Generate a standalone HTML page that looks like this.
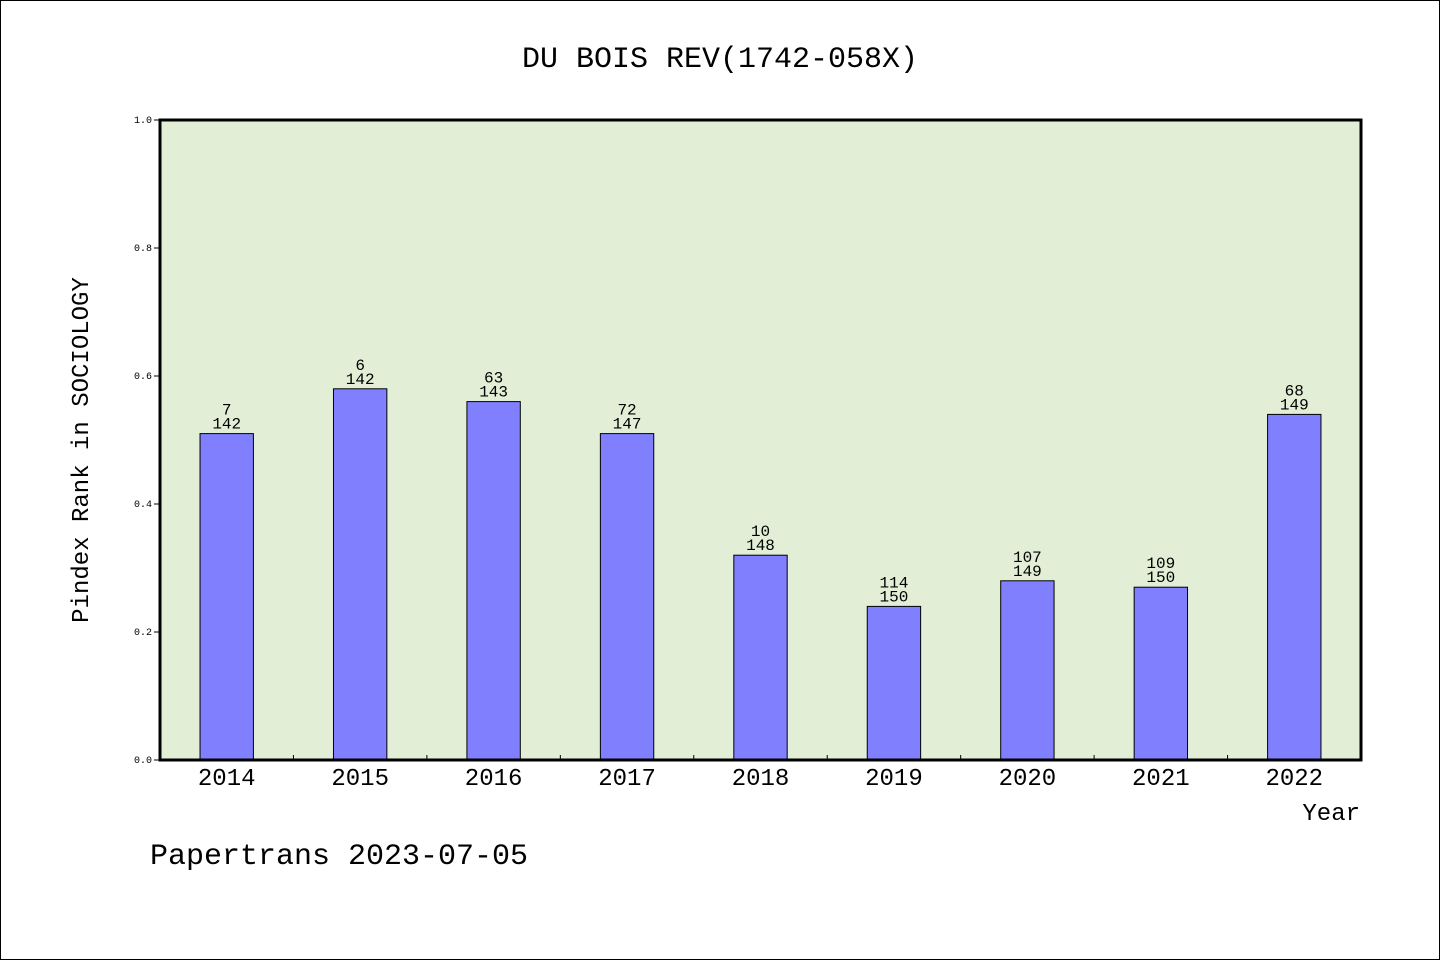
<!DOCTYPE html>
<html><head><meta charset="utf-8"><style>
body{margin:0;background:#fff}
svg text{font-family:"WenQuanYi Zen Hei","Liberation Mono",monospace;fill:#000}
</style></head><body>
<svg width="1440" height="960" xmlns="http://www.w3.org/2000/svg">
<rect x="0.5" y="0.5" width="1439" height="959" fill="#fff" stroke="#000"/>
<text x="720" y="67" font-size="30" text-anchor="middle">DU BOIS REV(1742-058X)</text>
<rect x="160" y="120" width="1201" height="640" fill="#e2efd6"/>
<g id="bars"></g>
<g id="yticks"></g>
<g id="xticks"></g>
<rect x="160" y="120" width="1201" height="640" fill="none" stroke="#000" stroke-width="3"/>
<text transform="translate(88,450) rotate(-90)" font-size="24" text-anchor="middle">Pindex Rank in SOCIOLOGY</text>
<text x="1360" y="820" font-size="24" text-anchor="end">Year</text>
<text x="150" y="864" font-size="30">Papertrans 2023-07-05</text>
</svg>
<script>
const categories=["2014","2015","2016","2017","2018","2019","2020","2021","2022"];
const values=[0.51,0.58,0.56,0.51,0.32,0.24,0.28,0.27,0.54];
const ranks=["7","6","63","72","10","114","107","109","68"];
const totals=["142","142","143","147","148","150","149","150","149"];
const yTicks=[0,0.2,0.4,0.6,0.8,1.0];
const X0=160,X1=1361,Y0=760,Y1=120;
const NS="http://www.w3.org/2000/svg";
const band=(X1-X0)/categories.length;
const xc=i=>X0+(i+0.5)*band;
const y=v=>Y0-(v)*(Y0-Y1);
function mk(t,a,p){const e=document.createElementNS(NS,t);for(const k in a)e.setAttribute(k,a[k]);p.appendChild(e);return e;}
const bars=document.getElementById('bars'),yt=document.getElementById('yticks'),xt=document.getElementById('xticks');
categories.forEach((c,i)=>{
  const w=band*0.4,yy=y(values[i]);
  const r=mk('rect',{x:xc(i)-w/2,y:yy,width:w,height:Y0-yy,fill:'#8080ff',stroke:'#000','stroke-width':1},bars);
  
  
  const t1=mk('text',{x:xc(i),y:yy-19,'font-size':16,'text-anchor':'middle'},bars);t1.textContent=ranks[i];
  
  
  const t2=mk('text',{x:xc(i),y:yy-5,'font-size':16,'text-anchor':'middle'},bars);t2.textContent=totals[i];
  
  
  const xl=mk('text',{x:xc(i),y:785,'font-size':24,'text-anchor':'middle'},xt);xl.textContent=c;
  
  
  if(i>0){const l=mk('line',{x1:X0+i*band,x2:X0+i*band,y1:Y0,y2:Y0-5,stroke:'#000'},xt);
  
  }
});
yTicks.forEach(v=>{
  const l=mk('line',{x1:X0-6,x2:X0,y1:y(v),y2:y(v),stroke:'#000'},yt);
  
  
  const t=mk('text',{x:X0-8,y:y(v)+3,'font-size':10,'text-anchor':'end'},yt);t.textContent=v.toFixed(1);
  
  
});
</script>
</body></html>
